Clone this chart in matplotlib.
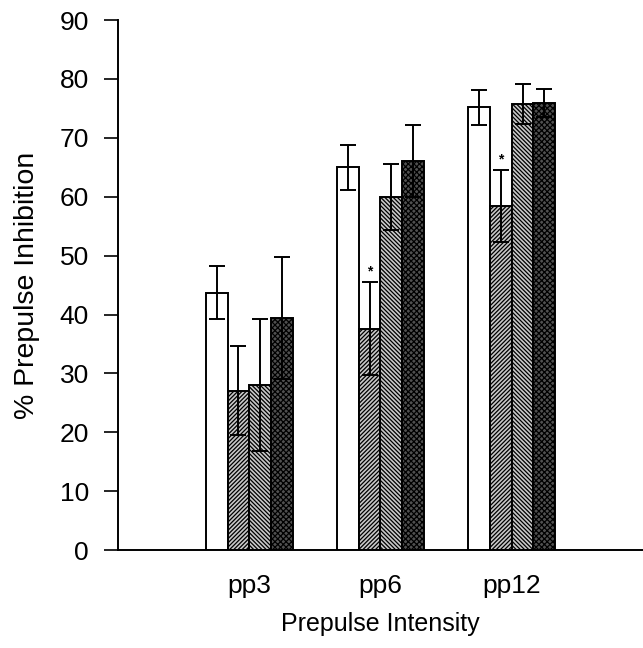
import matplotlib
matplotlib.use("Agg")
import matplotlib.pyplot as plt
import numpy as np

plt.rcParams['font.family'] = ['Liberation Sans', 'DejaVu Sans']
plt.rcParams['hatch.linewidth'] = 0.9

categories = ["pp3", "pp6", "pp12"]
series_means = [
    [43.7, 65.0, 75.2],
    [27.1, 37.6, 58.5],
    [28.0, 60.0, 75.8],
    [39.4, 66.1, 75.9],
]
series_err = [
    [4.5, 3.8, 3.0],
    [7.5, 7.9, 6.1],
    [11.2, 5.6, 3.4],
    [10.4, 6.1, 2.4],
]
# significance markers: (series index, category index)
significant = [(1, 1), (1, 2)]

facecolors = ["white", "#c8c8c8", "#c8c8c8", "#505050"]
hatches = [None, "////////", "\\\\\\\\\\\\\\\\", "xxxxxx"]

fig = plt.figure(figsize=(6.43, 6.48), dpi=100)
ax = fig.add_axes([0.1835, 0.151, 0.8165, 0.818])

x = np.arange(1, len(categories) + 1)
w = 0.165
offsets = (np.arange(4) - 1.5) * w
for i in range(4):
    ax.bar(x + offsets[i], series_means[i], width=w, color=facecolors[i],
           edgecolor="black", linewidth=1.4, hatch=hatches[i], zorder=2)
    ax.errorbar(x + offsets[i], series_means[i], yerr=series_err[i], fmt="none",
                ecolor="black", elinewidth=1.4, capsize=6, capthick=1.4, zorder=3)

for si, ci in significant:
    ax.text(x[ci] + offsets[si], series_means[si][ci] + series_err[si][ci] + 0.6,
            "*", ha="center", va="bottom", fontsize=10, fontweight="bold")

ax.set_xlim(0, 4)
ax.set_ylim(0, 90)
ax.set_yticks(np.arange(0, 91, 10))
ax.set_xticks(x)
ax.set_xticklabels(categories)
ax.tick_params(axis="x", length=0, pad=17, labelsize=19)
ax.tick_params(axis="y", direction="out", length=10, width=1.2, pad=11, labelsize=19)
for s in ["top", "right"]:
    ax.spines[s].set_visible(False)
ax.spines["left"].set_linewidth(1.4)
ax.spines["bottom"].set_linewidth(1.4)

ax.set_ylabel("% Prepulse Inhibition", fontsize=20.5)
ax.yaxis.set_label_coords(-0.148, 0.5)
ax.set_xlabel("Prepulse Intensity", fontsize=18, labelpad=10)

fig.savefig("out.png", dpi=100)
